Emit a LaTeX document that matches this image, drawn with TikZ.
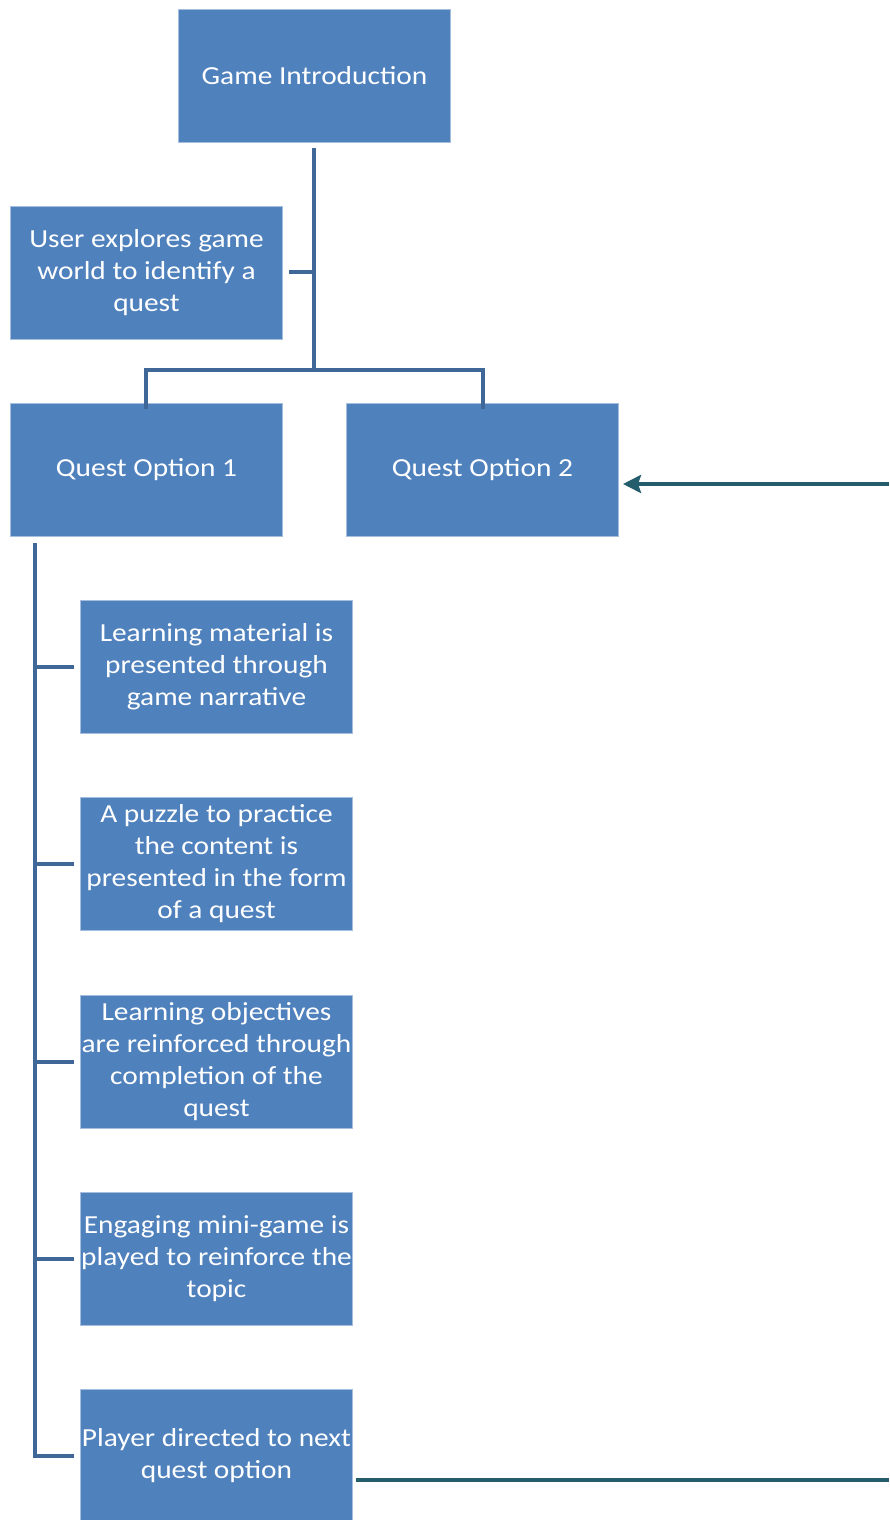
\documentclass[tikz,border=0pt]{standalone}
\usepackage{fontspec}
\setmainfont[FakeStretch=1.13]{Carlito}
\usetikzlibrary{arrows.meta}
\definecolor{boxblue}{HTML}{4F81BD}
\definecolor{boxedge}{HTML}{A7BFDE}
\definecolor{treeblue}{HTML}{3F6797}
\definecolor{teal}{HTML}{245D6B}
\tikzset{
  box/.style={draw=boxedge, line width=1pt, fill=boxblue, text=white, minimum width=272pt, minimum height=133pt, inner xsep=0pt, inner ysep=2pt, align=center, font=\fontsize{26}{32}\selectfont, anchor=north west},
  conn/.style={draw=treeblue, line width=4pt, line cap=butt, line join=miter},
  link/.style={draw=teal, line width=4pt}
}
\begin{document}
\begin{tikzpicture}[x=1pt,y=-1pt]
\useasboundingbox (0,0) rectangle (889,1520);
\node[box] (gi) at (178,9) {Game Introduction};
\node[box] (ue) at (10,206) {User explores game\\world to identify a\\quest};
\node[box] (q1) at (10,403) {Quest Option 1};
\node[box] (q2) at (346,403) {Quest Option 2};
\node[box] (lm) at (80,600) {Learning material is\\presented through\\game narrative};
\node[box] (pz) at (80,797) {A puzzle to practice\\the content is\\presented in the form\\of a quest};
\node[box] (lo) at (80,995) {Learning objectives\\are reinforced through\\completion of the\\quest};
\node[box] (em) at (80,1192) {Engaging mini-game is\\played to reinforce the\\topic};
\node[box] (pd) at (80,1389) {Player directed to next\\quest option};
% top tree
\coordinate (top) at (314,148);
\coordinate (j1) at (314,370);
\coordinate (jue) at (314,272);
\coordinate (jl) at (146,370);
\coordinate (jr) at (483,370);
\draw[conn] (top) -- (j1);
\draw[conn] (jue) -- ([xshift=6pt]ue.east |- jue);
\draw[conn] ([yshift=-6pt]q1.north -| jl) -- (jl) -- (jr) -- ([yshift=-6pt]q2.north -| jr);
% left tree
\coordinate (lt) at (35,543);
\coordinate (lb) at (35,1456);
\draw[conn] (lt) -- (lb) -- ([xshift=-6pt]pd.west |- lb);
\foreach \n in {lm,pz,lo,em}{
  \draw[conn] (lt |- \n.west) -- ([xshift=-6pt]\n.west);
}
% links
\coordinate (rin) at (889,484);
\coordinate (rout) at (889,1480);
\draw[link, -{Stealth[length=18pt,width=18pt,inset=3pt]}] (rin) -- ([xshift=4pt]q2.east |- rin);
\draw[link] ([xshift=3pt]pd.east |- rout) -- (rout);
\end{tikzpicture}
\end{document}
